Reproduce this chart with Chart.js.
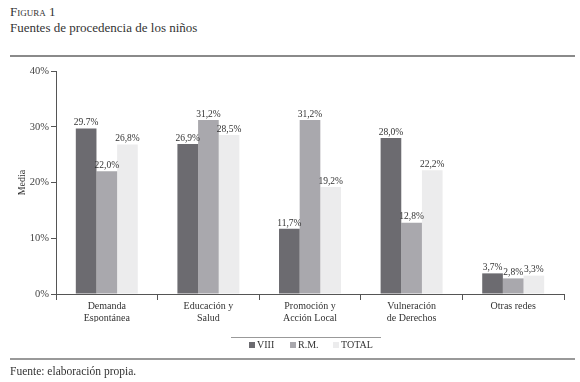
<!DOCTYPE html>
<html><head><meta charset="utf-8">
<script src="https://cdn.jsdelivr.net/npm/chart.js@4.4.1/dist/chart.umd.min.js"></script>
<style>
html,body{margin:0;padding:0;background:#fff;}
body{width:580px;height:382px;position:relative;overflow:hidden;font-family:"Liberation Serif","DejaVu Serif",serif;color:#333;}
#wrap{position:absolute;left:0;top:0;width:580px;height:382px;}
.t1{position:absolute;left:10px;top:4px;font-size:13px;font-variant:small-caps;color:#333;}
.t2{position:absolute;left:10px;top:20px;font-size:13px;color:#333;}
.rule{position:absolute;background:#8a8a8a;}
.src{position:absolute;left:10px;top:365px;font-size:11.5px;color:#333;}
.leg{position:absolute;top:339px;font-size:10px;color:#333;}
.leg span.b{display:inline-block;width:6px;height:6px;margin-right:2px;vertical-align:0px;}
</style></head><body>
<div class="t1">Figura 1</div>
<div class="t2">Fuentes de procedencia de los niños</div>
<div class="rule" style="left:10px;top:55px;width:565px;height:1.5px;"></div>
<div id="wrap"><canvas id="c" width="580" height="382"></canvas></div>
<div class="rule" style="left:231px;top:337px;width:150px;height:1px;background:#999;"></div>
<div id="legend"></div>
<div class="rule" style="left:10px;top:358px;width:565px;height:2px;background:#999;"></div>
<div class="src">Fuente: elaboración propia.</div>
<script>
const categories = [["Demanda","Espontánea"],["Educación y","Salud"],["Promoción y","Acción Local"],["Vulneración","de Derechos"],["Otras redes"]];
const seriesNames = ["VIII","R.M.","TOTAL"];
const viii  = [29.7, 26.9, 11.7, 28.0, 3.7];
const rm    = [22.0, 31.2, 31.2, 12.8, 2.8];
const total = [26.8, 28.5, 19.2, 22.2, 3.3];
const viiiLabels  = ["29.7%","26,9%","11,7%","28,0%","3,7%"];
const rmLabels    = ["22,0%","31,2%","31,2%","12,8%","2,8%"];
const totalLabels = ["26,8%","28,5%","19,2%","22,2%","3,3%"];
const yTicks = [0,10,20,30,40];
const colors = ["#6c6b70","#a9a8ad","#ececed"];

const FONT = "'Liberation Serif','DejaVu Serif',serif";
const labelSets = [viiiLabels, rmLabels, totalLabels];

const valueLabels = {
  id:'valueLabels',
  afterDatasetsDraw(chart){
    const ctx = chart.ctx;
    ctx.save();
    ctx.font = "9.5px " + FONT;
    ctx.fillStyle = "#333";
    ctx.textAlign = "center";
    ctx.textBaseline = "bottom";
    chart.data.datasets.forEach((ds,i)=>{
      const meta = chart.getDatasetMeta(i);
      meta.data.forEach((bar,j)=>{
        ctx.fillText(labelSets[i][j], bar.x, bar.y - 1);
      });
    });
    ctx.restore();
  }
};

new Chart(document.getElementById('c'), {
  type:'bar',
  data:{
    labels:categories,
    datasets:[
      {label:seriesNames[0], data:viii, backgroundColor:colors[0]},
      {label:seriesNames[1], data:rm, backgroundColor:colors[1]},
      {label:seriesNames[2], data:total, backgroundColor:colors[2]}
    ]
  },
  options:{
    responsive:false,
    animation:false,
    devicePixelRatio:1,
    layout:{padding:{left:0,right:16,top:71,bottom:60}},
    datasets:{bar:{categoryPercentage:0.61,barPercentage:1.0,borderWidth:0}},
    plugins:{legend:{display:false},tooltip:{enabled:false}},
    scales:{
      x:{
        grid:{display:true,drawOnChartArea:false,drawTicks:true,tickLength:6,color:'#555',offset:true},
        border:{display:true,color:'#555',width:1},
        ticks:{font:{family:FONT,size:10},color:'#333',padding:0,maxRotation:0,autoSkip:false},
        afterFit(s){s.height=28;}
      },
      y:{
        min:0,max:40,
        afterBuildTicks(s){s.ticks = yTicks.map(v=>({value:v}));},
        grid:{display:true,drawOnChartArea:false,drawTicks:true,tickLength:5,color:'#555'},
        border:{display:true,color:'#555',width:1},
        ticks:{font:{family:FONT,size:10.5},color:'#444',padding:2,callback:v=>v+'%'},
        title:{display:true,text:'Media',font:{family:FONT,size:10},color:'#333',padding:{top:16,bottom:0}},
        afterFit(s){s.width=56;}
      }
    }
  },
  plugins:[valueLabels]
});

// legend
const legendPos = [249,290,333];
const lg = document.getElementById('legend');
seriesNames.forEach((n,i)=>{
  const d = document.createElement('div');
  d.className='leg';
  d.style.left = legendPos[i]+'px';
  d.innerHTML = '<span class="b" style="background:'+colors[i]+'"></span>'+n;
  lg.appendChild(d);
});
</script>
</body></html>
